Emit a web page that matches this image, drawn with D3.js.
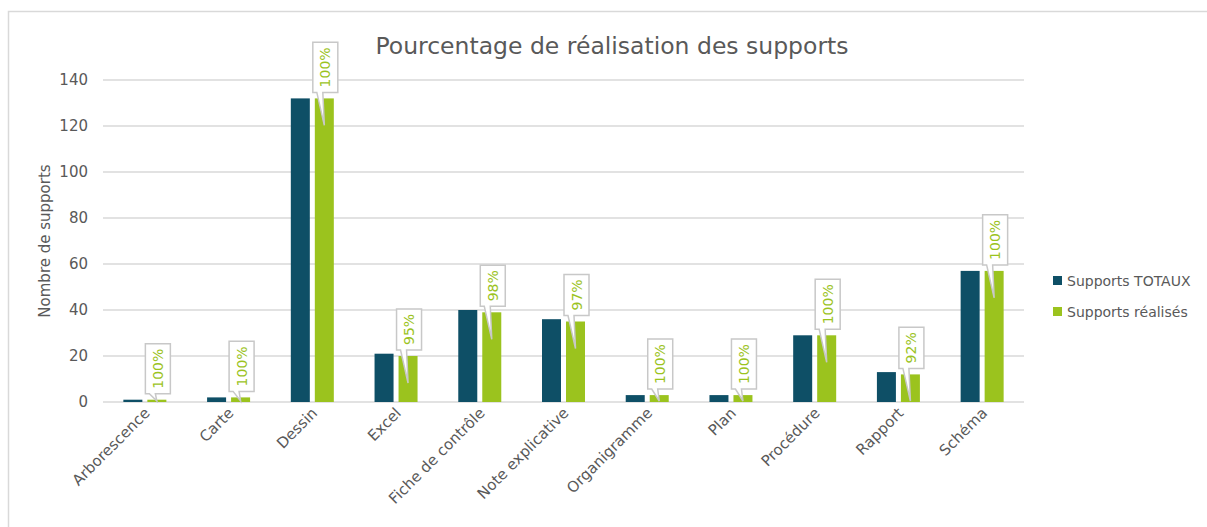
<!DOCTYPE html>
<html>
<head>
<meta charset="utf-8">
<script src="https://cdn.jsdelivr.net/npm/d3@7"></script>
<style>
  body { margin: 0; background: #fff; }
  text { font-family: "DejaVu Sans", sans-serif; }
</style>
</head>
<body>
<svg id="chart" width="1207" height="527"></svg>
<script>
// data
var categories = ["Arborescence", "Carte", "Dessin", "Excel", "Fiche de contrôle", "Note explicative",
  "Organigramme", "Plan", "Procédure", "Rapport", "Schéma"];
var totaux = [1, 2, 132, 21, 40, 36, 3, 3, 29, 13, 57];
var realises = [1, 2, 132, 20, 39, 35, 3, 3, 29, 12, 57];
var seriesNames = ["Supports TOTAUX", "Supports réalisés"];
var colors = ["#0E4F66", "#9BC31E"];
var yTicks = [0, 20, 40, 60, 80, 100, 120, 140];

var svg = d3.select("#chart");

// outer border (right and bottom run off the picture)
svg.append("rect")
  .attr("x", 8.5).attr("y", 11.5)
  .attr("width", 1300).attr("height", 600)
  .attr("fill", "none")
  .attr("stroke", "#d9d9d9")
  .attr("stroke-width", 1.5);

var plotLeft = 103, plotRight = 1024, plotTop = 80, plotBottom = 402;

var x = d3.scaleBand().domain(categories).range([plotLeft, plotRight]);
var y = d3.scaleLinear().domain([0, 140]).range([plotBottom, plotTop]);

// gridlines
svg.append("g").selectAll("line")
  .data(yTicks)
  .join("line")
  .attr("x1", plotLeft).attr("x2", plotRight)
  .attr("y1", function(d) { return y(d); })
  .attr("y2", function(d) { return y(d); })
  .attr("stroke", "#d9d9d9")
  .attr("stroke-width", 1.5);

// y tick labels
svg.append("g").selectAll("text")
  .data(yTicks)
  .join("text")
  .attr("x", 88)
  .attr("y", function(d) { return y(d) + 5; })
  .attr("text-anchor", "end")
  .attr("font-size", 15)
  .attr("fill", "#595959")
  .text(function(d) { return d; });

// y axis title
svg.append("text")
  .attr("transform", "translate(50," + ((plotTop + plotBottom) / 2) + ") rotate(-90)")
  .attr("text-anchor", "middle")
  .attr("font-size", 15)
  .attr("fill", "#595959")
  .text("Nombre de supports");

// title
svg.append("text")
  .attr("x", 612).attr("y", 54)
  .attr("text-anchor", "middle")
  .attr("font-size", 23.5)
  .attr("fill", "#595959")
  .text("Pourcentage de réalisation des supports");

var barW = 19, gap = 5;
var barX = function(i, s) {
  var c = x(categories[i]) + x.bandwidth() / 2;
  return s === 0 ? c - gap / 2 - barW : c + gap / 2;
};

// bars
[totaux, realises].forEach(function(vals, s) {
  svg.append("g").selectAll("rect")
    .data(vals)
    .join("rect")
    .attr("x", function(d, i) { return barX(i, s); })
    .attr("y", function(d) { return y(d); })
    .attr("width", barW)
    .attr("height", function(d) { return y(0) - y(d); })
    .attr("fill", colors[s]);
});

// x labels rotated
svg.append("g").selectAll("text")
  .data(categories)
  .join("text")
  .attr("transform", function(d) {
    return "translate(" + (x(d) + x.bandwidth() / 2 + 6) + "," + 414 + ") rotate(-45)";
  })
  .attr("text-anchor", "end")
  .attr("font-size", 15)
  .attr("fill", "#595959")
  .text(function(d) { return d; });

// callouts with percentage
var callouts = svg.append("g");
realises.forEach(function(v, i) {
  var pct = Math.round(v / totaux[i] * 100) + "%";
  var cx = barX(i, 1) + barW / 2;
  var g = callouts.append("g");
  var t = g.append("text")
    .attr("font-size", 14)
    .attr("fill", "#9BC31E")
    .attr("text-anchor", "middle")
    .text(pct);
  var len = t.node().getComputedTextLength();
  var boxH = len + 10, boxW = 25;
  var bx = cx - boxW / 2 + 1;
  var bBot = y(v) - 6;
  var bTop = bBot - boxH;
  var tipY = Math.min(y(v) + 27, y(0) - 1);
  var tipX = cx;
  g.insert("path", "text")
    .attr("d", "M" + bx + "," + bTop + "H" + (bx + boxW) + "V" + bBot +
      "H" + (bx + 10) + "L" + tipX + "," + tipY + "L" + (bx + 4) + "," + bBot +
      "H" + bx + "Z")
    .attr("fill", "#fff")
    .attr("stroke", "#c8c8c8")
    .attr("stroke-width", 1.5);
  t.attr("transform", "translate(" + (bx + boxW / 2 + 5) + "," + ((bTop + bBot) / 2) + ") rotate(-90)");
});

// legend
var legend = svg.append("g");
seriesNames.forEach(function(n, i) {
  legend.append("rect")
    .attr("x", 1053).attr("y", 276 + i * 31)
    .attr("width", 9).attr("height", 9)
    .attr("fill", colors[i]);
  legend.append("text")
    .attr("x", 1067).attr("y", 286 + i * 31)
    .attr("font-size", 14)
    .attr("fill", "#595959")
    .text(n);
});
</script>
</body>
</html>
